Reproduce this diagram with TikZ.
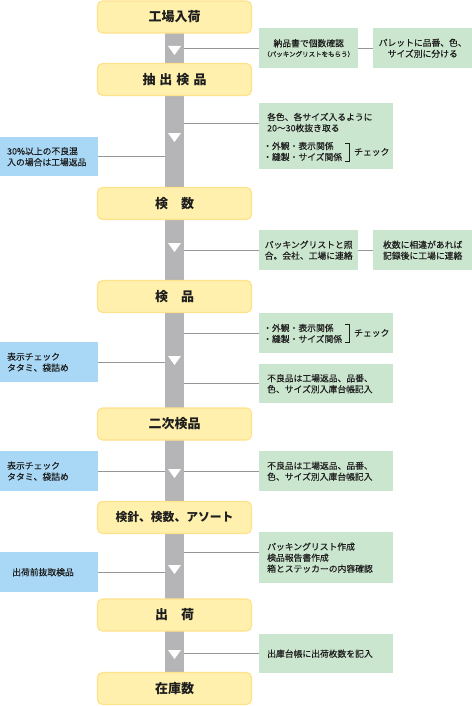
\documentclass[tikz,border=0pt]{standalone}
\usepackage{fontspec}
\newfontfamily\jp{Noto Sans CJK JP}
\newfontfamily\jpm[FakeBold=0.3]{Noto Sans CJK JP}
\definecolor{yfill}{RGB}{255,240,173}
\definecolor{ybord}{RGB}{255,226,140}
\definecolor{gfill}{RGB}{203,230,206}
\definecolor{bfill}{RGB}{168,216,246}
\definecolor{barcol}{RGB}{181,181,183}
\definecolor{lncol}{RGB}{150,150,150}
\definecolor{tcol}{RGB}{30,30,30}
\newcommand\myyf{\jp\bfseries\fontsize{13}{15}\selectfont}
\newcommand\mygf{\jpm\fontsize{8.8}{11}\selectfont}
\newcommand\mysf{\jpm\fontsize{6.5}{8}\selectfont}
\begin{document}
\begin{tikzpicture}[x=1pt,y=-1pt,
  ybox/.style={draw=ybord, line width=1.2pt, fill=yfill, rounded corners=5pt,
    minimum width=154pt, minimum height=32pt, inner sep=0pt, font=\myyf, text=tcol},
  barbox/.style={fill=barcol, inner sep=0pt, minimum width=19pt},
  gw/.style={fill=gfill, anchor=north west, inner xsep=8pt, inner ysep=0pt,
    text width=118pt, align=left, font=\mygf, text=tcol},
  gn/.style={fill=gfill, anchor=north west, inner xsep=3pt, inner ysep=0pt,
    text width=93pt, align=center, font=\mygf, text=tcol},
  bb/.style={fill=bfill, anchor=north west, inner xsep=7pt, inner ysep=0pt,
    text width=84pt, align=left, font=\mygf, text=tcol},
  txt/.style={inner sep=0pt, align=left, font=\mygf, text=tcol},
  conn/.style={draw=lncol, line width=0.9pt},
  brk/.style={draw=tcol, line width=0.7pt}
]
\useasboundingbox (0,0) rectangle (471,706);
% central bar
\node[barbox, minimum height=671pt] (bar) at (174.5,352.5) {};
% flow boxes
\node[ybox] (s1) at (174.5,17) {工場入荷};
\node[ybox] (s2) at (174.5,79.5) {抽\hspace{4pt}出\hspace{4pt}検\hspace{4pt}品};
\node[ybox] (s3) at (174.5,203.5) {検\hspace{1em}数};
\node[ybox] (s4) at (174.5,296.5) {検\hspace{1em}品};
\node[ybox] (s5) at (174.5,424) {二次検品};
\node[ybox, font=\jp\bfseries\fontsize{11.8}{14}\selectfont] (s6) at (174.5,517.5) {検針、検数、アソート};
\node[ybox] (s7) at (174.5,615) {出\hspace{1em}荷};
\node[ybox] (s8) at (174.5,688.5) {在庫数};
% arrow marks on bar
\foreach \t in {46,133,243,356,469,565,650}
  \fill[white] (168,\t) -- (181,\t) -- (174.5,\t+9) -- cycle;
% side boxes
\node[gn, minimum height=40pt] (g1) at (259,28) {納品書で個数確認\\[-1pt]{\mysf（パッキングリストをもらう）}};
\node[gn, minimum height=40pt] (g2) at (373,28) {パレットに品番、色、\\サイズ別に分ける};
\node[gw, minimum height=66pt] (g3) at (259,103) {};
\node[txt, anchor=west] (g3a) at (267,122.5) {各色、各サイズ入るように\\20～30枚抜き取る};
\node[txt, anchor=west] (g3b) at (263,151.5) {・外観・表示関係\\・縫製・サイズ関係};
\draw[brk] (345,143) -- (349,143) -- (349,161) -- (345,161);
\node[txt, anchor=west] (g3c) at (354,152) {チェック};
\node[bb, minimum height=39pt] (b1) at (0,137) {30\%以上の不良混\\入の場合は工場返品};
\node[gn, minimum height=40pt] (g4) at (259,230) {パッキングリストと照\\合。会社、工場に連絡};
\node[gn, minimum height=40pt] (g5) at (373,230) {枚数に相違があれば\\記録後に工場に連絡};
\node[gw, minimum height=40pt] (g6) at (259,313) {};
\node[txt, anchor=west] (g6b) at (263,333.5) {・外観・表示関係\\・縫製・サイズ関係};
\draw[brk] (345,324) -- (349,324) -- (349,342) -- (345,342);
\node[txt, anchor=west] (g6c) at (354,333) {チェック};
\node[gw, minimum height=39pt] (g7) at (259,364) {不良品は工場返品、品番、\\色、サイズ別入庫台帳記入};
\node[bb, minimum height=40pt] (b2) at (0,342) {表示チェック\\タタミ、袋詰め};
\node[gw, minimum height=40pt] (g8) at (259,451) {不良品は工場返品、品番、\\色、サイズ別入庫台帳記入};
\node[bb, minimum height=40pt] (b3) at (0,451) {表示チェック\\タタミ、袋詰め};
\node[gw, minimum height=51pt] (g9) at (259,532) {パッキングリスト作成\\検品報告書作成\\箱とステッカーの内容確認};
\node[bb, minimum height=40pt, inner xsep=12pt, text width=74pt] (b4) at (0,552) {出荷前抜取検品};
\node[gw, minimum height=39pt] (g10) at (259,634) {出庫台帳に出荷枚数を記入};
% connectors
\coordinate (y3) at (0,123);
\coordinate (y9) at (0,552);
\draw[conn] (bar.east |- g1.west) -- (g1.west);
\draw[conn] (g1.east) -- (g2.west);
\draw[conn] (bar.east |- y3) -- (g3.west |- y3);
\draw[conn] (b1.east) -- (bar.west |- b1.east);
\draw[conn] (bar.east |- g4.west) -- (g4.west);
\draw[conn] (g4.east) -- (g5.west);
\draw[conn] (bar.east |- g6.west) -- (g6.west);
\draw[conn] (bar.east |- g7.west) -- (g7.west);
\draw[conn] (b2.east) -- (bar.west |- b2.east);
\draw[conn] (bar.east |- g8.west) -- (g8.west);
\draw[conn] (b3.east) -- (bar.west |- b3.east);
\draw[conn] (bar.east |- y9) -- (g9.west |- y9);
\draw[conn] (b4.east) -- (bar.west |- b4.east);
\draw[conn] (bar.east |- g10.west) -- (g10.west);
\end{tikzpicture}
\end{document}
